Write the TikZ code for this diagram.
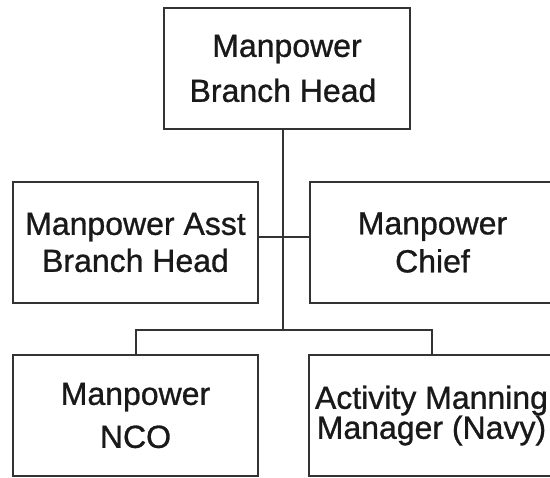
\documentclass[tikz,border=0pt]{standalone}
\usepackage{fontspec}
\setmainfont{Liberation Sans}[FakeBold=0.9]
\definecolor{rule}{HTML}{333333}
\tikzset{
  box/.style={draw=rule, line width=2pt, fill=white, minimum width=245pt,
    minimum height=121pt, inner sep=0pt, align=center, text=black!90},
  link/.style={draw=rule, line width=2pt},
  lead/.style={font=\fontsize{32}{#1}\selectfont}
}
\begin{document}
\begin{tikzpicture}[x=1pt,y=1pt]
  \useasboundingbox (0,0) rectangle (550,478);
  \clip (0,0) rectangle (550,478);
  \fill[white] (0,0) rectangle (550,478);
  % junctions on the trunk
  \coordinate (j1) at (283,241);
  \coordinate (j2) at (283,148);
  % boxes
  \node[box, lead=45, minimum width=246pt] (top) at (287,409.5) {Manpower\\Branch Head\hspace*{8pt}};
  \node[box, lead=37] (asst) at (135.5,235.5) {Manpower Asst\\Branch Head};
  \node[box, lead=38] (chief) at (432.5,235.5) {Manpower\\Chief};
  \node[box, lead=43] (nco) at (135.5,62.5) {Manpower\\NCO};
  \node[box, lead=30] (amm) at (431.5,62.5) {Activity Manning\\Manager (Navy)};
  % connectors
  \draw[link] (top.south -| j1) -- (j2);
  \draw[link] (asst.east |- j1) -- (chief.west |- j1);
  \draw[link] (nco.north) |- (j2) -| (amm.north);
\end{tikzpicture}
\end{document}
